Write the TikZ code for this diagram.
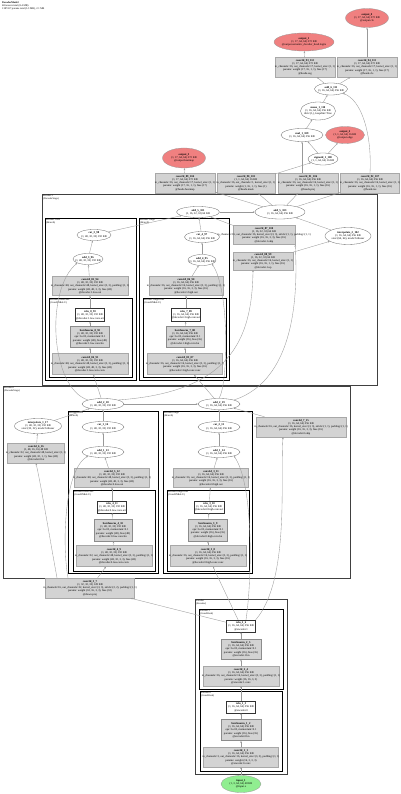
\documentclass[tikz,border=0pt]{standalone}
\usepackage{fontspec}
\setmainfont{Liberation Serif}
\usetikzlibrary{shapes.geometric,arrows.meta}
\definecolor{redfill}{HTML}{F08080}
\definecolor{greenfill}{HTML}{90EE90}
\definecolor{boxfill}{HTML}{D3D3D3}
\definecolor{boxline}{HTML}{A8A8A8}
\definecolor{edgecol}{HTML}{999999}
\newcommand\nd[7]{\node[#1, minimum width=#5, minimum height=#6, label={[txt]center:{#7}}] (#2) at (#3,#4) {};}
\newcommand\clus[7]{\draw[#1] (#2,#3) rectangle (#4,#5);
  \node[cltxt] (#6) at (#2+1,#3+0.6) {#7};}
\begin{document}
\begin{tikzpicture}[x=1pt,y=-1pt,
  txt/.style={font=\fontsize{2.8}{3.3}\selectfont, align=center, inner sep=0pt},
  cltxt/.style={font=\fontsize{2.5}{2.8}\selectfont, align=left, anchor=north west, inner sep=0pt},
  gbox/.style={rectangle, draw=boxline, fill=boxfill, line width=0.4pt, inner sep=0pt},
  bnbox/.style={rectangle, draw=black!45, fill=boxfill, line width=0.7pt, inner sep=0pt},
  wbox/.style={rectangle, draw=black!80, fill=white, line width=0.3pt, inner sep=0pt},
  ell/.style={ellipse, draw=black!60, fill=white, line width=0.3pt, inner sep=0pt},
  redell/.style={ellipse, draw=black!40, fill=redfill, line width=0.3pt, inner sep=0pt},
  greenell/.style={ellipse, draw=black!40, fill=greenfill, line width=0.3pt, inner sep=0pt},
  edge/.style={draw=edgecol, line width=0.35pt, -{Stealth[length=2pt,width=1.6pt]}},
  outerc/.style={draw=black!75, line width=0.9pt},
  subc/.style={draw=black, line width=0.7pt},
  innerc/.style={draw=black, line width=0.6pt}]
\useasboundingbox[fill=white] (0,0) rectangle (400,794);

% header
\node[txt, align=left, anchor=north west, font=\fontsize{2.6}{2.8}\selectfont] (hdr) at (2,1.5)
  {\textbf{DecoderModel}\\68 tensors total (8.4 MB)\\1387417 params total (5.3 MB), 2.1 MB};

% clusters
\clus{outerc}{42}{194}{377}{385}{c1lab}{decoder.1\\(DecoderStage)}
\clus{subc}{45}{218}{136}{380}{c1Llab}{decoder.1.low\\(Branch)}
\clus{subc}{139}{218}{229}{380}{c1Rlab}{decoder.1.high\\(Branch)}
\clus{innerc}{49}{298}{132}{377}{c1Lilab}{decoder.1.low.conv\\(ConvBNReLU)}
\clus{innerc}{143}{298}{226}{377}{c1Rilab}{decoder.1.high.conv\\(ConvBNReLU)}
\clus{outerc}{3}{386}{350}{578}{c2lab}{decoder.0\\(DecoderStage)}
\clus{subc}{68}{411}{158}{573}{c2Llab}{decoder.0.low\\(Branch)}
\clus{subc}{163}{411}{252}{573}{c2Rlab}{decoder.0.high\\(Branch)}
\clus{innerc}{73}{490}{155}{571}{c2Lilab}{decoder.0.low.conv\\(ConvBNReLU)}
\clus{innerc}{167}{490}{249}{571}{c2Rilab}{decoder.0.high.conv\\(ConvBNReLU)}
\clus{outerc}{195}{599}{287}{774}{elab}{encoder\\(Encoder)}
\clus{subc}{199}{609}{283}{689}{e1lab}{encoder.1\\(ConvBlock)}
\clus{subc}{200}{691}{282}{771}{e0lab}{encoder.0\\(ConvBlock)}

% top
\nd{redell}{out0}{367}{18}{43}{19}{\textbf{output\_0}\\(1, 17, 64, 64) 272 KB\\@output.cls}
\nd{redell}{out1}{304}{42}{60}{18}{\textbf{output\_1}\\(1, 17, 64, 64) 272 KB\\@output.semantic\_decoder\_head.logits}
\nd{gbox}{cTL}{305}{67}{60}{20}{\textbf{conv2d\_93\_112}\\(1, 17, 64, 64) 272 KB\\in\_channels=16, out\_channels=17, kernel\_size=(1, 1)\\params: weight (17, 16, 1, 1), bias (17)\\@heads.seg}
\nd{gbox}{cTR}{367}{67}{60}{20}{\textbf{conv2d\_94\_113}\\(1, 17, 64, 64) 272 KB\\in\_channels=16, out\_channels=17, kernel\_size=(1, 1)\\params: weight (17, 16, 1, 1), bias (17)\\@heads.cls}
\nd{ell}{addT}{331}{89}{33}{12}{\textbf{add\_6\_111}\\(1, 16, 64, 64) 256 KB}
\nd{ell}{reluT}{318}{111}{35}{18}{\textbf{mean\_1\_110}\\(1, 16, 64, 64) 256 KB\\dim=(1,), keepdim=True}
\nd{ell}{mulT}{302}{135}{42}{13}{\textbf{mul\_1\_109}\\(1, 16, 64, 64) 256 KB}
\nd{redell}{out2}{345}{135}{39}{17}{\textbf{output\_2}\\(1, 1, 64, 64) 16 KB\\@output.edge}
\nd{ell}{sig}{323}{159}{30}{12}{\textbf{sigmoid\_1\_108}\\(1, 1, 64, 64) 16 KB}
\nd{redell}{out3}{184}{158}{43}{20}{\textbf{output\_3}\\(1, 17, 64, 64) 272 KB\\@output.heatmap}
\nd{gbox}{b1}{185}{183}{60}{20}{\textbf{conv2d\_89\_104}\\(1, 17, 64, 64) 272 KB\\in\_channels=16, out\_channels=17, kernel\_size=(1, 1)\\params: weight (17, 16, 1, 1), bias (17)\\@heads.heatmap}
\nd{gbox}{b2}{246}{183}{58}{20}{\textbf{conv2d\_90\_105}\\(1, 1, 64, 64) 16 KB\\in\_channels=16, out\_channels=1, kernel\_size=(1, 1)\\params: weight (1, 16, 1, 1), bias (1)\\@heads.mask}
\nd{gbox}{b3}{308}{183}{60}{20}{\textbf{conv2d\_91\_106}\\(1, 16, 64, 64) 256 KB\\in\_channels=16, out\_channels=16, kernel\_size=(1, 1)\\params: weight (16, 16, 1, 1), bias (16)\\@heads.proj}
\nd{gbox}{b4}{370}{183}{59}{20}{\textbf{conv2d\_92\_107}\\(1, 16, 64, 64) 256 KB\\in\_channels=16, out\_channels=16, kernel\_size=(1, 1)\\params: weight (16, 16, 1, 1), bias (16)\\@heads.res}

% cluster 1
\nd{ell}{addA}{198}{212}{43}{11}{\textbf{add\_5\_101}\\(1, 16, 32, 32) 64 KB}
\nd{ell}{addB}{280}{212}{50}{14}{\textbf{add\_5\_103}\\(1, 16, 64, 64) 256 KB}
\nd{gbox}{convA}{264}{235}{62}{19}{\textbf{conv2d\_87\_100}\\(1, 16, 32, 32) 64 KB\\in\_channels=16, out\_channels=16, kernel\_size=(3, 3), stride=(1, 1), padding=(1, 1)\\params: weight (16, 16, 3, 3), bias (16)\\@decoder.1.skip}
\nd{gbox}{convB}{263}{261}{60}{18}{\textbf{conv2d\_88\_99}\\(1, 16, 32, 32) 64 KB\\in\_channels=16, out\_channels=16, kernel\_size=(1, 1)\\params: weight (16, 16, 1, 1), bias (16)\\@decoder.1.up}
\nd{ell}{interp1}{348}{236}{46}{17}{\textbf{interpolate\_2\_102}\\(1, 16, 64, 64) 256 KB\\size=(64, 64), mode=bilinear}
\nd{ell}{catL1}{94}{235}{34}{11}{\textbf{cat\_3\_98}\\(1, 48, 32, 32) 192 KB}
\nd{ell}{addL1}{88}{259}{30}{11}{\textbf{add\_3\_96}\\(1, 48, 32, 32) 192 KB}
\nd{ell}{catR1}{202}{237}{35}{11}{\textbf{cat\_4\_97}\\(1, 16, 64, 64) 256 KB}
\nd{ell}{addR1}{202}{260}{28}{11}{\textbf{add\_4\_95}\\(1, 16, 64, 64) 256 KB}
\nd{gbox}{convL0}{90}{286}{76}{19}{\textbf{conv2d\_85\_94}\\(1, 48, 32, 32) 192 KB\\in\_channels=48, out\_channels=48, kernel\_size=(3, 3), padding=(1, 1)\\params: weight (48, 48, 3, 3), bias (48)\\@decoder.1.low.out}
\nd{wbox}{reluL1}{90}{315}{29}{13}{\textbf{relu\_8\_93}\\(1, 48, 32, 32) 192 KB\\@decoder.1.low.conv.act}
\nd{bnbox}{bnL1}{90}{337}{39}{21}{\textbf{batchnorm\_8\_92}\\(1, 48, 32, 32) 192 KB\\eps=1e-05, momentum=0.1\\params: weight (48), bias (48)\\@decoder.1.low.conv.bn}
\nd{gbox}{convL1}{90}{364}{76}{21}{\textbf{conv2d\_84\_91}\\(1, 48, 32, 32) 192 KB\\in\_channels=48, out\_channels=48, kernel\_size=(3, 3), padding=(1, 1)\\params: weight (48, 48, 3, 3), bias (48)\\@decoder.1.low.conv.conv}
\nd{gbox}{convR0}{186}{286}{74}{19}{\textbf{conv2d\_86\_90}\\(1, 16, 64, 64) 256 KB\\in\_channels=16, out\_channels=16, kernel\_size=(3, 3), padding=(1, 1)\\params: weight (16, 16, 3, 3), bias (16)\\@decoder.1.high.out}
\nd{wbox}{reluR1}{186}{315}{29}{13}{\textbf{relu\_7\_89}\\(1, 16, 64, 64) 256 KB\\@decoder.1.high.conv.act}
\nd{bnbox}{bnR1}{185}{337}{38}{21}{\textbf{batchnorm\_7\_88}\\(1, 16, 64, 64) 256 KB\\eps=1e-05, momentum=0.1\\params: weight (16), bias (16)\\@decoder.1.high.conv.bn}
\nd{gbox}{convR1}{185}{364}{75}{21}{\textbf{conv2d\_83\_87}\\(1, 16, 64, 64) 256 KB\\in\_channels=16, out\_channels=16, kernel\_size=(3, 3), padding=(1, 1)\\params: weight (16, 16, 3, 3), bias (16)\\@decoder.1.high.conv.conv}

% cluster 2
\nd{ell}{add2L}{103}{404}{42}{11}{\textbf{add\_2\_18}\\(1, 48, 32, 32) 192 KB}
\nd{ell}{add2R}{219}{404}{42}{11}{\textbf{add\_2\_19}\\(1, 16, 64, 64) 256 KB}
\nd{ell}{interp2}{38}{426}{47}{15}{\textbf{interpolate\_1\_17}\\(1, 48, 32, 32) 192 KB\\size=(32, 32), mode=bilinear}
\nd{gbox}{conv615}{36}{453}{57}{20}{\textbf{conv2d\_6\_16}\\(1, 48, 16, 16) 48 KB\\in\_channels=32, out\_channels=48, kernel\_size=(1, 1)\\params: weight (48, 32, 1, 1), bias (48)\\@decoder.0.lat}
\nd{gbox}{boxC}{301}{427}{90}{20}{\textbf{conv2d\_7\_15}\\(1, 16, 64, 64) 256 KB\\in\_channels=16, out\_channels=16, kernel\_size=(3, 3), stride=(1, 1), padding=(1, 1)\\params: weight (16, 16, 3, 3), bias (16)\\@decoder.0.skip}
\nd{ell}{catL2}{103}{427}{42}{11}{\textbf{cat\_1\_14}\\(1, 48, 32, 32) 192 KB}
\nd{ell}{addL2}{103}{452}{42}{11}{\textbf{add\_1\_13}\\(1, 48, 32, 32) 192 KB}
\nd{gbox}{convL2}{112}{478}{75}{19}{\textbf{conv2d\_5\_12}\\(1, 48, 32, 32) 192 KB\\in\_channels=48, out\_channels=48, kernel\_size=(3, 3), padding=(1, 1)\\params: weight (48, 48, 3, 3), bias (48)\\@decoder.0.low.out}
\nd{wbox}{reluL3}{112}{507}{29}{12}{\textbf{relu\_4\_11}\\(1, 48, 32, 32) 192 KB\\@decoder.0.low.conv.act}
\nd{bnbox}{bnL3}{113}{530}{38}{22}{\textbf{batchnorm\_4\_10}\\(1, 48, 32, 32) 192 KB\\eps=1e-05, momentum=0.1\\params: weight (48), bias (48)\\@decoder.0.low.conv.bn}
\nd{gbox}{convL3}{114}{556}{76}{21}{\textbf{conv2d\_4\_9}\\(1, 48, 32, 32) 192 KB\\in\_channels=32, out\_channels=48, kernel\_size=(3, 3), padding=(1, 1)\\params: weight (48, 32, 3, 3), bias (48)\\@decoder.0.low.conv.conv}
\nd{ell}{catR2}{219}{427}{42}{11}{\textbf{cat\_2\_15}\\(1, 16, 64, 64) 256 KB}
\nd{ell}{addR2}{219}{452}{42}{11}{\textbf{add\_1\_14}\\(1, 16, 64, 64) 256 KB}
\nd{gbox}{convR2}{211}{478}{75}{19}{\textbf{conv2d\_3\_11}\\(1, 16, 64, 64) 256 KB\\in\_channels=16, out\_channels=16, kernel\_size=(3, 3), padding=(1, 1)\\params: weight (16, 16, 3, 3), bias (16)\\@decoder.0.high.out}
\nd{wbox}{reluR3}{209}{507}{30}{12}{\textbf{relu\_3\_10}\\(1, 16, 64, 64) 256 KB\\@decoder.0.high.conv.act}
\nd{bnbox}{bnR3}{208}{530}{39}{22}{\textbf{batchnorm\_3\_9}\\(1, 16, 64, 64) 256 KB\\eps=1e-05, momentum=0.1\\params: weight (16), bias (16)\\@decoder.0.high.conv.bn}
\nd{gbox}{convR3}{208}{556}{76}{21}{\textbf{conv2d\_3\_8}\\(1, 16, 64, 64) 256 KB\\in\_channels=16, out\_channels=16, kernel\_size=(3, 3), padding=(1, 1)\\params: weight (16, 16, 3, 3), bias (16)\\@decoder.0.high.conv.conv}
\nd{gbox}{conv37}{90}{588}{89}{20}{\textbf{conv2d\_3\_7}\\(1, 32, 32, 32) 128 KB\\in\_channels=16, out\_channels=32, kernel\_size=(3, 3), stride=(2, 2), padding=(1, 1)\\params: weight (32, 16, 3, 3), bias (32)\\@down.proj}

% encoder
\nd{wbox}{reluE2}{241}{626}{29}{12}{\textbf{relu\_2\_6}\\(1, 16, 64, 64) 256 KB\\@encoder.1}
\nd{bnbox}{bnE2}{241}{649}{40}{20}{\textbf{batchnorm\_2\_5}\\(1, 16, 64, 64) 256 KB\\eps=1e-05, momentum=0.1\\params: weight (16), bias (16)\\@encoder.1.bn}
\nd{gbox}{convE2}{241}{676}{76}{20}{\textbf{conv2d\_2\_4}\\(1, 16, 64, 64) 256 KB\\in\_channels=16, out\_channels=16, kernel\_size=(3, 3), padding=(1, 1)\\params: weight (16, 16, 3, 3)\\@encoder.1.conv}
\nd{wbox}{reluE1}{241}{707}{29}{12}{\textbf{relu\_1\_3}\\(1, 16, 64, 64) 256 KB\\@encoder.0}
\nd{bnbox}{bnE1}{241}{730}{40}{21}{\textbf{batchnorm\_1\_2}\\(1, 16, 64, 64) 256 KB\\eps=1e-05, momentum=0.1\\params: weight (16), bias (16)\\@encoder.0.bn}
\nd{gbox}{convE1}{241}{757}{75}{20}{\textbf{conv2d\_1\_1}\\(1, 16, 64, 64) 256 KB\\in\_channels=3, out\_channels=16, kernel\_size=(3, 3), padding=(1, 1)\\params: weight (16, 3, 3, 3)\\@encoder.0.conv}
\nd{greenell}{inp}{241}{784}{40}{17}{\textbf{input\_1}\\(1, 3, 64, 64) 48 KB\\@input.x}

% edges: encoder
\draw[edge] (inp) -- (convE1);
\draw[edge] (convE1) -- (bnE1);
\draw[edge] (bnE1) -- (reluE1);
\draw[edge] (reluE1) -- (convE2);
\draw[edge] (convE2) -- (bnE2);
\draw[edge] (bnE2) -- (reluE2);
\draw[edge] (reluE2) -- (conv37);
\draw[edge] (reluE2) -- ([xshift=5]convR3.south);
\draw[edge] ([xshift=5]reluE2.north) .. controls (252,580) and (254,485) .. (addR2.south east);
\draw[edge] (reluE2.north east) .. controls (290,580) and (280,480) .. ([xshift=-18]boxC.south);

% edges: cluster 2
\draw[edge] ([xshift=-33]conv37.north) .. controls (50,540) and (42,490) .. (conv615.south);
\draw[edge] ([xshift=-22]conv37.north) .. controls (62,545) and (64,470) .. (addL2.south west);
\draw[edge] (conv37) -- (convL3);
\draw[edge] (convL3) -- (bnL3);
\draw[edge] (bnL3) -- (reluL3);
\draw[edge] (reluL3) -- (convL2);
\draw[edge] (convL2) -- (addL2);
\draw[edge] (addL2) -- (catL2);
\draw[edge] (catL2) -- (add2L);
\draw[edge] (convR3) -- (bnR3);
\draw[edge] (bnR3) -- (reluR3);
\draw[edge] (reluR3) -- (convR2);
\draw[edge] (convR2) -- (addR2);
\draw[edge] (addR2) -- (catR2);
\draw[edge] (catR2) -- (add2R);
\draw[edge] (conv615) -- (interp2);
\draw[edge] (interp2) -- (add2L);
\draw[edge] (boxC) -- (add2R);
\draw[edge] (add2L) -- (add2R);

% edges: cluster 2 -> cluster 1
\draw[edge] (add2L) -- (convL1);
\draw[edge] (add2L.north west) .. controls (50,388) and (45,290) .. (addL1.south west);
\draw[edge] (add2R) -- (convR1);
\draw[edge] (add2R.north) .. controls (228,385) and (230,290) .. (addR1.south east);
\draw[edge] (add2L.north east) .. controls (230,392) and (252,340) .. ([xshift=-10]convB.south);
\draw[edge] (add2R.north east) .. controls (280,385) and (300,330) .. (convA.south east);

% edges: cluster 1
\draw[edge] (convL1) -- (bnL1);
\draw[edge] (bnL1) -- (reluL1);
\draw[edge] (reluL1) -- (convL0);
\draw[edge] (convL0) -- (addL1);
\draw[edge] (addL1) -- (catL1);
\draw[edge] (catL1) -- (addA);
\draw[edge] (convR1) -- (bnR1);
\draw[edge] (bnR1) -- (reluR1);
\draw[edge] (reluR1) -- (convR0);
\draw[edge] (convR0) -- (addR1);
\draw[edge] (addR1) -- (catR1);
\draw[edge] (catR1) -- (addA);
\draw[edge] (convA.north west) -- (addA);
\draw[edge] (addA) -- (addB);
\draw[edge] (convB) -- (interp1);
\draw[edge] (interp1) -- (addB);

% edges: top
\draw[edge] (addB) -- (b1);
\draw[edge] (addB) -- (b2);
\draw[edge] (addB) -- (b3);
\draw[edge] (addB) -- (b4);
\draw[edge] (b1) -- (out3);
\draw[edge] (b2) -- (sig);
\draw[edge] ([xshift=-6]b3.north) -- (mulT);
\draw[edge] (sig) -- (mulT);
\draw[edge] (sig) -- (out2);
\draw[edge] (mulT) -- (reluT);
\draw[edge] (reluT) -- (addT);
\draw[edge] (b4.north) .. controls (372,135) and (362,100) .. (addT.south east);
\draw[edge] (addT) -- (cTL);
\draw[edge] (addT) -- (cTR);
\draw[edge] (cTL) -- (out1);
\draw[edge] (cTR) -- (out0);
\end{tikzpicture}
\end{document}
